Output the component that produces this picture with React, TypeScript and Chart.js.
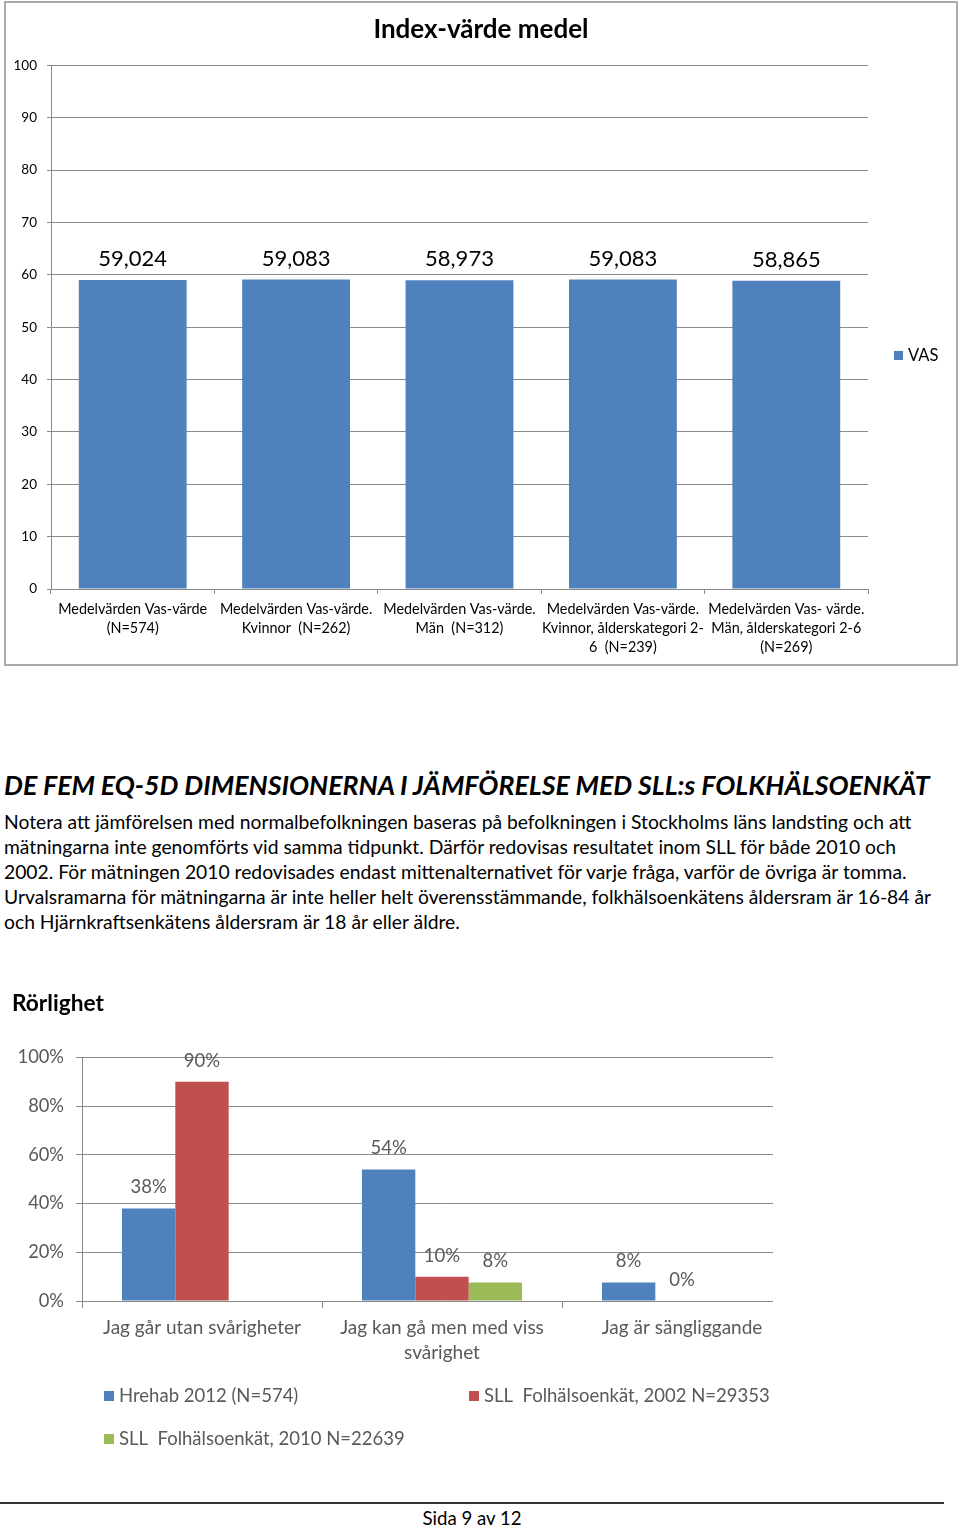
import React, { useEffect, useRef } from "react";
import { Chart, registerables } from "chart.js";

Chart.register(...registerables);

const FONT = "Lato, 'Open Sans', sans-serif";

// ---------- Chart 1: Index-värde medel ----------
const vasTitle = "Index-värde medel";
const vasSeriesName = "VAS";
const vasCategories: string[][] = [
  ["Medelvärden Vas-värde", "(N=574)"],
  ["Medelvärden Vas-värde.", "Kvinnor  (N=262)"],
  ["Medelvärden Vas-värde.", "Män  (N=312)"],
  ["Medelvärden Vas-värde.", "Kvinnor, ålderskategori 2-", "6  (N=239)"],
  ["Medelvärden Vas- värde.", "Män, ålderskategori 2-6", "(N=269)"],
];
const vasValues = [59.024, 59.083, 58.973, 59.083, 58.865];
const vasTicks = [0, 10, 20, 30, 40, 50, 60, 70, 80, 90, 100];

// ---------- Chart 2: Rörlighet ----------
const mobTitle = "Rörlighet";
const mobCategories: string[][] = [
  ["Jag går utan svårigheter"],
  ["Jag kan gå men med viss", "svårighet"],
  ["Jag är sängliggande"],
];
const mobSeriesNames = [
  "Hrehab 2012 (N=574)",
  "SLL  Folhälsoenkät, 2002 N=29353",
  "SLL  Folhälsoenkät, 2010 N=22639",
];
const hrehab2012 = [38, 54, 7.6];
const sll2002 = [90, 10, 0];
const sll2010 = [null, 7.6, null];
const mobTicks = [0, 20, 40, 60, 80, 100];

const BLUE = "#4f81bd";
const RED = "#c0504d";
const GREEN = "#9bbb59";
const GRID = "#8a8a8a";

const dataLabels = (id: string, font: string, color: string, offset: number, fmt: (v: number) => string) => ({
  id,
  afterDatasetsDraw(chart: any) {
    const ctx = chart.ctx;
    ctx.save();
    ctx.font = font;
    ctx.fillStyle = color;
    ctx.textAlign = "center";
    ctx.textBaseline = "middle";
    chart.data.datasets.forEach((ds: any, di: number) => {
      const meta = chart.getDatasetMeta(di);
      meta.data.forEach((el: any, i: number) => {
        const v = ds.data[i];
        if (v === null || v === undefined) return;
        ctx.fillText(fmt(v), el.x, el.y - offset);
      });
    });
    ctx.restore();
  },
});

const overlay1 = {
  id: "overlay1",
  afterDraw(chart: any) {
    const ctx = chart.ctx;
    ctx.save();
    ctx.fillStyle = "#000";
    ctx.font = `bold 26px ${FONT}`;
    ctx.textAlign = "center";
    ctx.textBaseline = "middle";
    ctx.fillText(vasTitle, chart.width / 2, 27);
    // legend
    ctx.fillStyle = BLUE;
    ctx.fillRect(888, 348, 9, 9);
    ctx.fillStyle = "#000";
    ctx.font = `16.5px ${FONT}`;
    ctx.textAlign = "left";
    ctx.fillText(vasSeriesName, 902, 353);
    ctx.restore();
  },
};

const overlay2 = {
  id: "overlay2",
  afterDraw(chart: any) {
    const ctx = chart.ctx;
    ctx.save();
    ctx.fillStyle = "#000";
    ctx.font = `bold 22.7px ${FONT}`;
    ctx.textAlign = "left";
    ctx.textBaseline = "middle";
    ctx.fillText(mobTitle, 12, 19);
    const items = [
      { x: 104, y: 411, c: BLUE },
      { x: 469, y: 411, c: RED },
      { x: 104, y: 454, c: GREEN },
    ];
    ctx.font = `18.5px ${FONT}`;
    items.forEach((it, i) => {
      ctx.fillStyle = it.c;
      ctx.fillRect(it.x, it.y - 5, 10, 10);
      ctx.fillStyle = "#595959";
      ctx.fillText(mobSeriesNames[i], it.x + 15, it.y);
    });
    ctx.restore();
  },
};

export default function App() {
  const c1 = useRef<HTMLCanvasElement>(null);
  const c2 = useRef<HTMLCanvasElement>(null);

  useEffect(() => {
    const ch1 = new Chart(c1.current as HTMLCanvasElement, {
      type: "bar",
      data: {
        labels: vasCategories,
        datasets: [
          {
            label: vasSeriesName,
            data: vasValues,
            backgroundColor: BLUE,
            categoryPercentage: 1,
            barPercentage: 0.66,
          },
        ],
      },
      options: {
        responsive: false,
        animation: false,
        layout: { padding: { top: 62.3, right: 88, left: 0, bottom: 0 } },
        plugins: { legend: { display: false }, tooltip: { enabled: false }, title: { display: false } },
        scales: {
          x: {
            grid: { drawOnChartArea: false, drawTicks: true, tickLength: 5, color: GRID, offset: true },
            border: { display: true, color: GRID },
            ticks: {
              autoSkip: false,
              maxRotation: 0,
              padding: 5.5,
              color: "#000",
              font: { family: FONT, size: 14.4, lineHeight: 19 / 14.4 },
            },
            afterFit: (s: any) => {
              s.height = 75;
            },
          },
          y: {
            min: 0,
            max: 100,
            afterBuildTicks: (s: any) => {
              s.ticks = vasTicks.map((v) => ({ value: v }));
            },
            grid: { color: GRID, tickLength: 4 },
            border: { display: true, color: GRID },
            ticks: { padding: 10, color: "#000", font: { family: FONT, size: 13.5 } },
            afterFit: (s: any) => {
              s.width = 45;
            },
          },
        },
      },
      plugins: [
        dataLabels("dl1", `22px ${FONT}`, "#000", 21, (v) => v.toFixed(3).replace(".", ",")),
        overlay1,
      ],
    } as any);

    const ch2 = new Chart(c2.current as HTMLCanvasElement, {
      type: "bar",
      data: {
        labels: mobCategories,
        datasets: [
          { label: mobSeriesNames[0], data: hrehab2012, backgroundColor: BLUE, categoryPercentage: 0.667, barPercentage: 1 },
          { label: mobSeriesNames[1], data: sll2002, backgroundColor: RED, categoryPercentage: 0.667, barPercentage: 1 },
          { label: mobSeriesNames[2], data: sll2010, backgroundColor: GREEN, categoryPercentage: 0.667, barPercentage: 1 },
        ],
      },
      options: {
        responsive: false,
        animation: false,
        layout: { padding: { top: 72.5, right: 38, left: 0, bottom: 0 } },
        plugins: { legend: { display: false }, tooltip: { enabled: false }, title: { display: false } },
        scales: {
          x: {
            grid: { drawOnChartArea: false, drawTicks: true, tickLength: 7, color: GRID, offset: true },
            border: { display: true, color: GRID },
            ticks: {
              autoSkip: false,
              maxRotation: 0,
              padding: 7.5,
              color: "#595959",
              font: { family: FONT, size: 19, lineHeight: 25 / 19 },
            },
            afterFit: (s: any) => {
              s.height = 159;
            },
          },
          y: {
            min: 0,
            max: 100,
            afterBuildTicks: (s: any) => {
              s.ticks = mobTicks.map((v) => ({ value: v }));
            },
            grid: { color: GRID, tickLength: 6 },
            border: { display: true, color: GRID },
            ticks: {
              padding: 12,
              color: "#595959",
              font: { family: FONT, size: 18.3 },
              callback: (v: any) => `${v}%`,
            },
            afterFit: (s: any) => {
              s.width = 82;
            },
          },
        },
      },
      plugins: [
        dataLabels("dl2", `18.5px ${FONT}`, "#595959", 21, (v) => `${Math.round(v)}%`),
        overlay2,
      ],
    } as any);

    return () => {
      ch1.destroy();
      ch2.destroy();
    };
  }, []);

  const paraLines = [
    "Notera att jämförelsen med normalbefolkningen baseras på befolkningen i Stockholms läns landsting och att",
    "mätningarna inte genomförts vid samma tidpunkt. Därför redovisas resultatet inom SLL för både 2010 och",
    "2002. För mätningen 2010 redovisades endast mittenalternativet för varje fråga, varför de övriga är tomma.",
    "Urvalsramarna för mätningarna är inte heller helt överensstämmande, folkhälsoenkätens åldersram är 16-84 år",
    "och Hjärnkraftsenkätens åldersram är 18 år eller äldre.",
  ];

  return (
    <div
      style={{
        position: "absolute",
        left: 0,
        top: 0,
        width: 960,
        height: 1527,
        background: "#fff",
        fontFamily: FONT,
        color: "#000",
        overflow: "hidden",
      }}
    >
      <div
        style={{
          position: "absolute",
          left: 4,
          top: 1,
          width: 954,
          height: 665,
          boxSizing: "border-box",
          border: "2px solid #aaaaaa",
        }}
      >
        <canvas ref={c1} width={950} height={661} style={{ display: "block" }} />
      </div>

      <div
        style={{
          position: "absolute",
          left: 4,
          top: 770,
          height: 30,
          lineHeight: "30px",
          fontSize: 26.7,
          fontWeight: 700,
          fontStyle: "italic",
          whiteSpace: "nowrap",
        }}
      >
        DE FEM EQ-5D DIMENSIONERNA I JÄMFÖRELSE MED SLL:s FOLKHÄLSOENKÄT
      </div>
      {paraLines.map((t, i) => (
        <div
          key={i}
          style={{
            position: "absolute",
            left: 4,
            top: 808.5 + i * 25.2,
            height: 25,
            lineHeight: "25px",
            fontSize: 19.3,
            whiteSpace: "nowrap",
          }}
        >
          {t}
        </div>
      ))}

      <div style={{ position: "absolute", left: 0, top: 985, width: 773, height: 475, overflow: "hidden" }}>
        <canvas ref={c2} width={840} height={475} style={{ display: "block" }} />
      </div>

      <div style={{ position: "absolute", left: 0, top: 1502, width: 944, height: 2, background: "#333" }} />
      <div
        style={{
          position: "absolute",
          left: 0,
          width: 944,
          top: 1507,
          lineHeight: "22px",
          fontSize: 18.6,
          textAlign: "center",
        }}
      >
        Sida 9 av 12
      </div>
    </div>
  );
}
